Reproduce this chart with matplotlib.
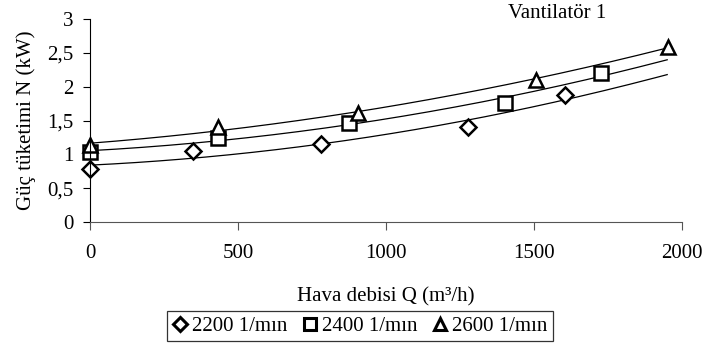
import matplotlib
matplotlib.use('Agg')
import matplotlib.pyplot as plt
from matplotlib.ticker import FuncFormatter
import numpy as np

plt.rcParams['font.family'] = ['Liberation Serif', 'DejaVu Serif']
plt.rcParams['font.size'] = 15

# data (Q in m3/h, N in kW)
q_2200 = [0, 348, 780, 1277, 1605]
n_2200 = [0.78, 1.05, 1.15, 1.40, 1.87]
q_2400 = [0, 433, 876, 1402, 1726]
n_2400 = [1.03, 1.24, 1.46, 1.76, 2.20]
q_2600 = [0, 433, 905, 1507, 1953]
n_2600 = [1.14, 1.40, 1.61, 2.10, 2.59]

labels = ['2200 1/mın', '2400 1/mın', '2600 1/mın']
markers = ['D', 's', '^']
trend_end = 1950

fig = plt.figure(figsize=(7.05, 3.48), dpi=100)
ax = fig.add_axes([90 / 705, 1 - 222 / 348, 592 / 705, 203 / 348])

series = [(q_2200, n_2200), (q_2400, n_2400), (q_2600, n_2600)]
for (q, n), lab, m in zip(series, labels, markers):
    # 2nd order trendline, like the spreadsheet did
    coef = np.polyfit(q, n, 2)
    xs = np.linspace(0, trend_end, 200)
    ax.plot(xs, np.polyval(coef, xs), color='black', lw=0.9)
    ms = 8 if m == 'D' else 10
    ax.plot(q, n, linestyle='none', marker=m, ms=ms, mfc='white',
            mec='black', mew=1.8, label=lab, clip_on=False)

ax.set_xlim(0, 2000)
ax.set_ylim(0, 3)
ax.set_xticks([0, 500, 1000, 1500, 2000])
ax.set_yticks([0, 0.5, 1, 1.5, 2, 2.5, 3])
ax.yaxis.set_major_formatter(FuncFormatter(lambda v, p: f'{v:g}'.replace('.', ',')))
for s in ['top', 'right']:
    ax.spines[s].set_visible(False)
ax.spines['bottom'].set_color('#555555')
ax.tick_params(axis='x', length=6, pad=10, color='#555555')
ax.tick_params(axis='y', length=5, pad=7)

ax.set_ylabel('Güç tüketimi N (kW)', labelpad=8)
fig.text(386 / 705, 1 - 297 / 348, 'Hava debisi Q (m³/h)', ha='center', va='center')
fig.text(557 / 705, 1 - 13 / 348, 'Vantilatör 1', ha='center', va='center')

leg = fig.legend(loc='center', bbox_to_anchor=(360 / 705, 1 - 326 / 348), ncol=3,
                 frameon=True, fancybox=False, edgecolor='black',
                 handlelength=0.7, handletextpad=0.25, columnspacing=0.7,
                 borderpad=0.25, markerscale=0.85)
leg.get_frame().set_linewidth(0.9)
for h in leg.legend_handles:
    h.set_markeredgewidth(2.2)

fig.savefig('out.png', dpi=100)
